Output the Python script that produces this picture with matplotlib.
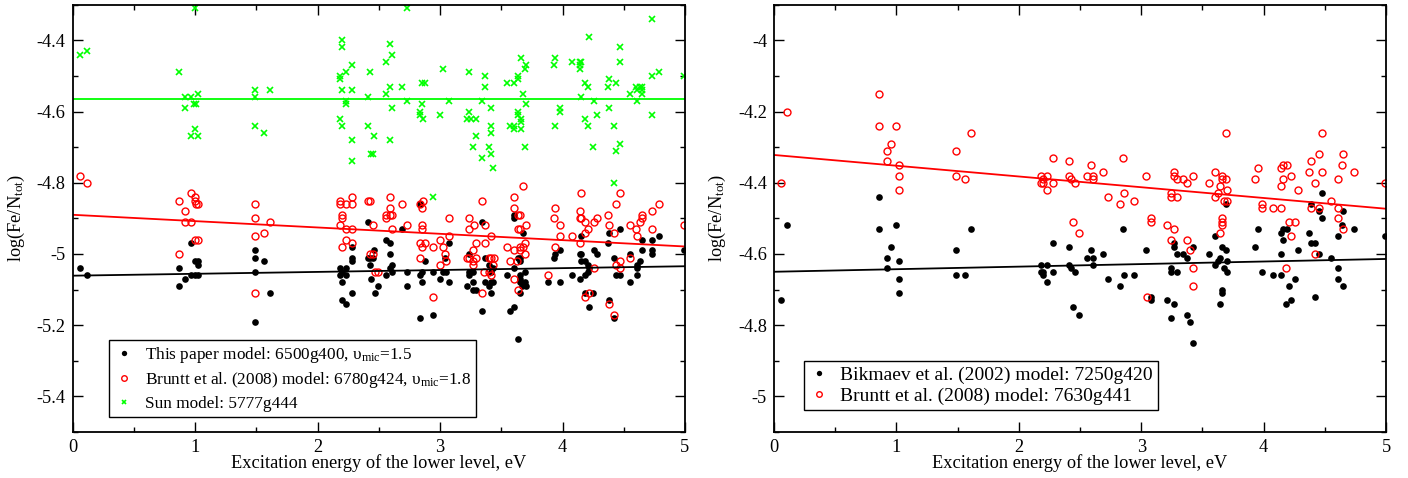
import numpy as np
import matplotlib
matplotlib.use('Agg')
import matplotlib.pyplot as plt
from matplotlib.ticker import MultipleLocator

plt.rcParams['font.family'] = ['Liberation Serif', 'DejaVu Serif']
plt.rcParams['mathtext.fontset'] = 'custom'
plt.rcParams['mathtext.rm'] = 'Liberation Serif'
plt.rcParams['mathtext.it'] = 'Liberation Serif:italic'

# ---- left panel: this paper / Bruntt / Sun ----
paper_x = [0.06, 0.12, 0.87, 0.87, 0.92, 0.97, 0.97, 1.00, 1.02, 1.00, 1.02, 1.02,
           1.49, 1.49, 1.56, 1.49, 1.61, 1.49,
           2.18, 2.23, 2.18, 2.23, 2.20, 2.20, 2.28, 2.28, 2.28, 2.28, 2.20, 2.23,
           2.41, 2.41, 2.43, 2.45, 2.43, 2.46, 2.44, 2.49, 2.47,
           2.56, 2.59, 2.59, 2.61, 2.59, 2.61, 2.56, 2.69, 2.73, 2.73,
           2.84, 2.84, 2.85, 2.84, 2.85, 2.88, 2.94, 2.94, 3.00, 3.02, 3.05, 3.07, 3.07, 3.04,
           3.22, 3.24, 3.24, 3.24, 3.27, 3.27, 3.27, 3.29, 3.34, 3.34, 3.37, 3.37, 3.40,
           3.42, 3.43, 3.42, 3.42, 3.40, 3.43, 3.55, 3.60, 3.60, 3.60, 3.57, 3.60, 3.64,
           3.64, 3.65, 3.65, 3.68, 3.69, 3.65, 3.65, 3.65, 3.69, 3.70, 3.67, 3.65,
           3.88, 3.98, 3.94, 3.93, 3.98, 4.08, 4.15, 4.14, 4.15, 4.18, 4.15, 4.14,
           4.21, 4.22, 4.18, 4.21, 4.18, 4.25, 4.22, 4.26, 4.28, 4.37, 4.38, 4.42, 4.47,
           4.44, 4.47, 4.38, 4.42, 4.55, 4.55, 4.61, 4.61, 4.63, 4.61, 4.65, 4.65,
           4.73, 4.73, 4.73, 4.79, 4.99]
paper_y = [-5.04, -5.06, -5.04, -5.09, -5.07, -4.97, -5.06, -5.06, -5.06, -5.02, -5.02, -5.03,
           -4.99, -5.01, -5.02, -5.05, -5.11, -5.19,
           -5.04, -5.04, -5.06, -5.06, -5.05, -5.08, -4.98, -5.01, -5.02, -5.11, -5.13, -5.14,
           -4.91, -5.01, -5.01, -5.01, -5.03, -4.99, -5.07, -5.09, -5.11,
           -4.96, -4.97, -5.00, -5.03, -5.04, -5.05, -5.06, -4.93, -5.05, -5.09,
           -4.86, -5.18, -5.05, -5.06, -5.08, -5.02, -5.05, -5.17, -5.07, -5.05, -5.05, -4.97, -5.08, -5.01,
           -5.09, -5.00, -5.05, -5.06, -5.05, -5.08, -5.10, -5.10, -4.91, -5.16, -5.01, -5.08, -5.09,
           -5.08, -5.08, -5.11, -5.05, -5.03, -5.04, -5.06, -4.89, -4.90, -5.04, -5.16, -5.15, -5.24,
           -5.01, -5.01, -5.02, -4.94, -5.05, -5.06, -5.07, -5.08, -5.08, -5.09, -5.09, -5.11,
           -5.08, -4.99, -5.00, -5.01, -5.08, -5.06, -4.95, -5.00, -5.00, -5.02, -5.02, -5.07,
           -5.03, -5.04, -5.06, -5.05, -5.11, -5.11, -5.15, -4.99, -5.00, -4.97, -4.94, -5.01, -4.93,
           -5.06, -5.06, -5.13, -5.18, -5.00, -5.08, -5.03, -5.04, -5.02, -5.06, -4.96, -4.99,
           -4.96, -4.99, -5.00, -4.95, -4.99]

bruntt1_x = [0.06, 0.12, 0.87, 0.92, 0.97, 1.00, 1.00, 1.02, 1.01, 0.92, 0.97, 1.00, 1.02, 0.87,
             1.49, 1.49, 1.61, 1.49, 1.56, 1.49,
             2.18, 2.18, 2.23, 2.28, 2.28, 2.20, 2.20, 2.18, 2.23, 2.28, 2.23, 2.20, 2.28,
             2.41, 2.43, 2.45, 2.43, 2.45, 2.47, 2.49, 2.56, 2.56, 2.59, 2.61, 2.59, 2.59, 2.61,
             2.69, 2.73, 2.85, 2.84, 2.86, 2.85, 2.85, 2.84, 2.88, 2.85, 2.84, 2.94, 2.94,
             3.00, 3.02, 3.04, 3.05, 3.00, 3.07, 3.07, 3.22, 3.24, 3.29, 3.24, 3.24, 3.28,
             3.29, 3.27, 3.27, 3.27, 3.34, 3.37, 3.37, 3.34, 3.40, 3.42, 3.44, 3.42, 3.43,
             3.36, 3.40, 3.42, 3.55, 3.57, 3.60, 3.60, 3.60, 3.64, 3.65, 3.68, 3.70, 3.64,
             3.65, 3.65, 3.68, 3.69, 3.65, 3.69, 3.63, 3.60, 3.64, 3.88, 3.93, 3.94, 3.98,
             3.98, 3.94, 4.08, 4.15, 4.14, 4.14, 4.15, 4.18, 4.14, 4.21, 4.18, 4.26, 4.28,
             4.26, 4.18, 4.22, 4.37, 4.38, 4.42, 4.44, 4.47, 4.44, 4.47, 4.47, 4.38, 4.42,
             4.55, 4.55, 4.60, 4.61, 4.63, 4.65, 4.65, 4.73, 4.73, 4.79, 4.99]
bruntt1_y = [-4.78, -4.80, -4.85, -4.88, -4.83, -4.84, -4.85, -4.86, -4.86, -4.91, -4.91, -4.96, -4.96, -5.00,
             -4.86, -4.90, -4.91, -4.95, -4.94, -5.11,
             -4.85, -4.86, -4.86, -4.86, -4.84, -4.89, -4.90, -4.92, -4.93, -4.93, -4.96, -4.98, -4.97,
             -4.85, -4.85, -4.92, -5.00, -5.00, -5.05, -5.05, -4.89, -4.90, -4.89, -4.89, -4.84, -4.87, -4.93,
             -4.86, -4.92, -4.87, -4.86, -4.85, -4.92, -4.93, -4.97, -4.97, -4.98, -5.01, -4.98, -5.12,
             -4.96, -4.98, -5.00, -5.02, -5.03, -4.90, -4.95, -5.01, -5.01, -5.01, -4.93, -4.90, -4.92,
             -4.97, -4.99, -5.02, -5.03, -4.85, -4.92, -4.97, -5.11, -5.01, -5.01, -5.01, -4.95, -5.03,
             -5.05, -5.05, -5.06, -4.98, -5.02, -4.99, -4.84, -4.87, -4.89, -4.89, -4.81, -4.92, -4.93,
             -4.93, -4.98, -4.98, -4.97, -4.99, -5.00, -5.02, -5.07, -5.10, -5.06, -4.90, -4.87, -4.92,
             -4.95, -4.98, -4.95, -4.83, -4.88, -4.90, -4.90, -4.91, -4.97, -4.93, -4.94, -4.91, -4.90,
             -5.04, -5.12, -5.11, -4.89, -4.92, -4.94, -4.86, -4.83, -5.03, -5.04, -5.02, -5.14, -5.17,
             -4.92, -5.01, -4.93, -4.95, -4.91, -4.90, -4.89, -4.88, -4.93, -4.86, -4.92]

sun_x = [0.06, 0.12, 0.87, 0.92, 0.97, 0.92, 1.02, 0.99, 1.01, 1.00, 0.97, 1.02, 1.00,
         1.49, 1.49, 1.61, 1.49, 1.56,
         2.18, 2.18, 2.20, 2.20, 2.23, 2.28, 2.20, 2.28, 2.23, 2.23, 2.18, 2.20, 2.28, 2.28,
         2.43, 2.41, 2.41, 2.46, 2.44, 2.45, 2.56, 2.59, 2.61, 2.56, 2.59, 2.61, 2.59,
         2.69, 2.73, 2.73, 2.85, 2.88, 2.84, 2.84, 2.85, 2.86, 3.02, 3.00, 3.07,
         3.24, 3.24, 3.22, 3.25, 3.29, 3.29, 3.27, 3.34, 3.37, 3.37, 3.40, 3.34,
         3.42, 3.42, 3.42, 3.42, 3.43, 3.55, 3.60, 3.64, 3.64, 3.66, 3.69, 3.70, 3.68,
         3.70, 3.64, 3.64, 3.66, 3.66, 3.57, 3.60, 3.60, 3.66, 3.69,
         3.94, 3.93, 3.98, 3.98, 3.94, 4.08, 4.14, 4.15, 4.14, 4.14, 4.22, 4.18, 4.21,
         4.15, 4.26, 4.18, 4.28, 4.21, 4.25, 4.37, 4.38, 4.44, 4.47, 4.47, 4.38, 4.42,
         4.47, 4.44, 4.42, 4.55, 4.60, 4.61, 4.63, 4.65, 4.65, 4.65, 4.61,
         4.73, 4.73, 4.79, 4.73, 4.99, 2.94]
sun_y = [-4.44, -4.43, -4.49, -4.56, -4.56, -4.59, -4.55, -4.58, -4.58, -4.65, -4.67, -4.67, -4.31,
         -4.54, -4.56, -4.54, -4.64, -4.66,
         -4.50, -4.51, -4.40, -4.42, -4.49, -4.47, -4.54, -4.54, -4.58, -4.57, -4.62, -4.64, -4.68, -4.74,
         -4.49, -4.56, -4.64, -4.67, -4.72, -4.72, -4.46, -4.41, -4.44, -4.55, -4.53, -4.59, -4.68,
         -4.53, -4.31, -4.57, -4.52, -4.52, -4.60, -4.61, -4.58, -4.62, -4.48, -4.61, -4.57,
         -4.49, -4.60, -4.62, -4.62, -4.62, -4.67, -4.70, -4.57, -4.50, -4.53, -4.70, -4.73,
         -4.59, -4.64, -4.66, -4.72, -4.76, -4.52, -4.52, -4.51, -4.50, -4.45, -4.48, -4.47, -4.55,
         -4.58, -4.60, -4.61, -4.62, -4.63, -4.64, -4.64, -4.65, -4.65, -4.70,
         -4.45, -4.47, -4.59, -4.60, -4.64, -4.46, -4.46, -4.46, -4.47, -4.48, -4.39, -4.52, -4.53,
         -4.56, -4.57, -4.62, -4.61, -4.64, -4.70, -4.53, -4.51, -4.52, -4.42, -4.46, -4.59, -4.64,
         -4.69, -4.71, -4.80, -4.55, -4.53, -4.54, -4.53, -4.54, -4.55, -4.53, -4.57,
         -4.34, -4.50, -4.49, -4.61, -4.50, -4.84]

# ---- right panel: Bikmaev / Bruntt ----
bik_x = [0.06, 0.11, 0.86, 0.86, 1.00, 1.61, 0.96, 0.92, 0.92, 1.02, 1.02, 1.02,
         1.49, 1.49, 1.56, 2.18, 2.23, 2.18, 2.20, 2.20, 2.23, 2.28, 2.28,
         2.41, 2.41, 2.43, 2.46, 2.44, 2.49, 2.56, 2.61, 2.59, 2.61, 2.69, 2.73,
         2.85, 2.86, 2.83, 2.94, 3.04, 3.08, 3.08, 3.21, 3.24, 3.24, 3.29, 3.27,
         3.27, 3.29, 3.27, 3.24, 3.34, 3.37, 3.37, 3.40, 3.42, 3.42, 3.55, 3.60,
         3.60, 3.66, 3.69, 3.64, 3.63, 3.70, 3.68, 3.70, 3.66, 3.66, 3.64, 3.69,
         3.93, 3.95, 3.99, 4.08, 4.14, 4.14, 4.14, 4.16, 4.19, 4.16, 4.26, 4.21,
         4.18, 4.22, 4.28, 4.37, 4.39, 4.42, 4.45, 4.42, 4.45, 4.48, 4.48, 4.39,
         4.55, 4.61, 4.61, 4.61, 4.65, 4.64, 4.65, 4.74, 4.99]
bik_y = [-4.73, -4.52, -4.44, -4.53, -4.52, -4.53, -4.58, -4.61, -4.64, -4.62, -4.67, -4.71,
         -4.59, -4.66, -4.66, -4.63, -4.63, -4.65, -4.65, -4.66, -4.68, -4.65, -4.57,
         -4.58, -4.63, -4.64, -4.65, -4.75, -4.77, -4.61, -4.61, -4.59, -4.63, -4.60, -4.67,
         -4.53, -4.66, -4.69, -4.66, -4.59, -4.72, -4.73, -4.73, -4.64, -4.65, -4.65, -4.57,
         -4.58, -4.60, -4.74, -4.78, -4.60, -4.61, -4.77, -4.79, -4.58, -4.85, -4.60, -4.55,
         -4.63, -4.58, -4.59, -4.61, -4.62, -4.62, -4.64, -4.65, -4.70, -4.71, -4.74, -4.46,
         -4.58, -4.53, -4.65, -4.66, -4.66, -4.60, -4.54, -4.53, -4.53, -4.56, -4.67, -4.69,
         -4.74, -4.73, -4.59, -4.54, -4.57, -4.57, -4.60, -4.72, -4.48, -4.50, -4.43, -4.46,
         -4.61, -4.55, -4.64, -4.67, -4.69, -4.52, -4.48, -4.53, -4.55]

bruntt2_x = [0.06, 0.11, 0.86, 0.86, 1.00, 0.96, 0.92, 0.92, 1.02, 1.02, 1.02,
             1.49, 1.49, 1.56, 1.61, 2.18, 2.23, 2.18, 2.20, 2.20, 2.23, 2.28, 2.28,
             2.41, 2.41, 2.43, 2.46, 2.44, 2.49, 2.56, 2.61, 2.61, 2.59, 2.69, 2.73,
             2.85, 2.86, 2.83, 2.94, 3.04, 3.08, 3.08, 3.21, 3.24, 3.24, 3.29, 3.27,
             3.27, 3.29, 3.27, 3.34, 3.37, 3.42, 3.24, 3.37, 3.40, 3.42, 3.42, 3.05,
             3.55, 3.60, 3.60, 3.66, 3.66, 3.69, 3.64, 3.63, 3.70, 3.68, 3.70, 3.69,
             3.66, 3.66, 3.66, 3.64, 3.93, 3.95, 3.99, 3.99, 4.08, 4.14, 4.14, 4.14,
             4.16, 4.19, 4.16, 4.22, 4.28, 4.21, 4.26, 4.22, 4.18, 4.37, 4.39, 4.42,
             4.45, 4.48, 4.48, 4.39, 4.45, 4.42, 4.55, 4.61, 4.61, 4.61, 4.64, 4.65,
             4.74, 4.65, 4.99]
bruntt2_y = [-4.40, -4.20, -4.15, -4.24, -4.24, -4.29, -4.31, -4.34, -4.35, -4.38, -4.42,
             -4.31, -4.38, -4.39, -4.26, -4.38, -4.38, -4.40, -4.40, -4.39, -4.42, -4.40, -4.33,
             -4.34, -4.38, -4.39, -4.40, -4.51, -4.54, -4.38, -4.38, -4.39, -4.35, -4.37, -4.44,
             -4.33, -4.43, -4.46, -4.45, -4.38, -4.50, -4.51, -4.52, -4.43, -4.44, -4.44, -4.37,
             -4.38, -4.39, -4.53, -4.39, -4.40, -4.38, -4.56, -4.56, -4.59, -4.64, -4.69, -4.72,
             -4.40, -4.37, -4.44, -4.38, -4.39, -4.39, -4.41, -4.43, -4.42, -4.45, -4.45, -4.26,
             -4.50, -4.51, -4.52, -4.54, -4.39, -4.36, -4.46, -4.47, -4.47, -4.47, -4.41, -4.36,
             -4.35, -4.35, -4.39, -4.38, -4.42, -4.51, -4.51, -4.55, -4.64, -4.37, -4.34, -4.40,
             -4.32, -4.26, -4.37, -4.47, -4.47, -4.60, -4.45, -4.39, -4.47, -4.50, -4.35, -4.32,
             -4.37, -4.53, -4.40]

# linear fits: (value at x=0, slope)
fit_paper = (-5.061, 0.0053)
fit_bruntt1 = (-4.890, -0.0178)
fit_sun = (-4.566, 0.0)
fit_bik = (-4.650, 0.0072)
fit_bruntt2 = (-4.322, -0.0302)

GREEN = '#00ff00'
FS = 13.2

fig = plt.figure(figsize=(14.08, 4.78), dpi=100)
ax1 = fig.add_axes([0.0516, 0.0962, 0.4349, 0.894])
ax2 = fig.add_axes([0.5497, 0.0962, 0.4347, 0.894])

xfit = np.array([0.0, 5.0])

def style(ax, ylim, ymaj):
    ax.set_xlim(0, 5)
    ax.set_ylim(*ylim)
    ax.xaxis.set_major_locator(MultipleLocator(1))
    ax.xaxis.set_minor_locator(MultipleLocator(0.5))
    ax.yaxis.set_major_locator(MultipleLocator(ymaj))
    ax.yaxis.set_minor_locator(MultipleLocator(ymaj / 2))
    ax.tick_params(which='both', direction='in', top=True, right=True,
                   labelsize=FS, width=1.0, pad=5)
    ax.tick_params(which='major', length=7.5)
    ax.tick_params(which='minor', length=3.8)
    for s in ax.spines.values():
        s.set_linewidth(1.3)
    ax.set_xlabel('Excitation energy of the lower level, eV', fontsize=FS)
    ax.set_ylabel(r'log(Fe/N$_{\mathrm{tot}}$)', fontsize=FS)
    ax.xaxis.set_label_coords(0.5, -0.052)
    ax.yaxis.set_label_coords(-0.075, 0.5)
    fmt = lambda v, p: '%g' % v
    ax.yaxis.set_major_formatter(plt.FuncFormatter(fmt))
    ax.xaxis.set_major_formatter(plt.FuncFormatter(fmt))

# left panel
ax1.plot(paper_x, paper_y, 'o', color='black', ms=4.8, mew=0,
         label=r'This paper model: 6500g400, υ$_{\mathrm{mic}}$=1.5')
ax1.plot(bruntt1_x, bruntt1_y, 'o', mfc='none', mec='red', ms=5.0, mew=1.0,
         label=r'Bruntt et al. (2008) model: 6780g424, υ$_{\mathrm{mic}}$=1.8')
ax1.plot(sun_x, sun_y, 'x', color=GREEN, ms=3.8, mew=1.2,
         label='Sun model: 5777g444')
ax1.plot(xfit, fit_paper[0] + fit_paper[1] * xfit, '-', color='black', lw=1.3)
ax1.plot(xfit, fit_bruntt1[0] + fit_bruntt1[1] * xfit, '-', color='red', lw=1.3)
ax1.plot(xfit, fit_sun[0] + fit_sun[1] * xfit, '-', color=GREEN, lw=1.3)
style(ax1, (-5.5, -4.3), 0.2)
leg1 = ax1.legend(loc='upper left', bbox_to_anchor=(0.0598, 0.2153), borderaxespad=0,
                  fontsize=12.4, frameon=True, fancybox=False, framealpha=1,
                  edgecolor='black', handlelength=1.1, handletextpad=0.65,
                  borderpad=0.3, labelspacing=0.3, markerscale=0.8)
leg1.get_frame().set_linewidth(1.0)

# right panel
ax2.plot(bik_x, bik_y, 'o', color='black', ms=4.8, mew=0,
         label='Bikmaev et al. (2002) model: 7250g420')
ax2.plot(bruntt2_x, bruntt2_y, 'o', mfc='none', mec='red', ms=5.0, mew=1.0,
         label='Bruntt et al. (2008) model: 7630g441')
ax2.plot(xfit, fit_bik[0] + fit_bik[1] * xfit, '-', color='black', lw=1.3)
ax2.plot(xfit, fit_bruntt2[0] + fit_bruntt2[1] * xfit, '-', color='red', lw=1.3)
style(ax2, (-5.1, -3.9), 0.2)
leg2 = ax2.legend(loc='upper left', bbox_to_anchor=(0.0495, 0.166), borderaxespad=0,
                  fontsize=14, frameon=True, fancybox=False, framealpha=1,
                  edgecolor='black', handlelength=1.0, handletextpad=0.6,
                  borderpad=0.25, labelspacing=0.2, markerscale=0.8)
leg2.get_frame().set_linewidth(1.0)

fig.savefig('out.png', dpi=100)
